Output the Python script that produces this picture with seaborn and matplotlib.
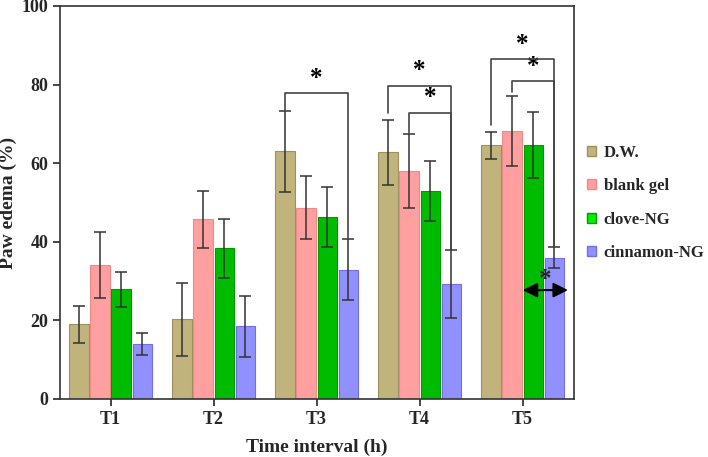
import matplotlib
matplotlib.use("Agg")
import matplotlib.pyplot as plt
from matplotlib.patches import Patch
import seaborn as sns
import pandas as pd

# valores (média e desvio)
tempos = ["T1", "T2", "T3", "T4", "T5"]
grupos = ["D.W.", "blank gel", "clove-NG", "cinnamon-NG"]
dw = [19.0, 20.3, 63.0, 62.8, 64.5]
blank_gel = [34.0, 45.7, 48.7, 58.1, 68.2]
clove_ng = [27.9, 38.4, 46.3, 52.9, 64.6]
cinnamon_ng = [14.1, 18.5, 32.9, 29.3, 35.9]
dw_sd = [4.7, 9.3, 10.3, 8.3, 3.4]
blank_gel_sd = [8.4, 7.2, 8.1, 9.4, 8.9]
clove_ng_sd = [4.4, 7.5, 7.6, 7.7, 8.3]
cinnamon_ng_sd = [2.8, 7.8, 7.8, 8.7, 2.7]

cores = ["#c0b47c", "#ff9f9f", "#00bc00", "#9090ff"]
bordas = ["#9d9060", "#f08a8a", "#009a00", "#7070e0"]
cores_legenda = ["#c0b47c", "#ff9f9f", "#00ee00", "#9090ff"]

df = pd.DataFrame({
    "tempo": tempos * 4,
    "grupo": sum([[g] * 5 for g in grupos], []),
    "valor": dw + blank_gel + clove_ng + cinnamon_ng,
})
desvios = [dw_sd, blank_gel_sd, clove_ng_sd, cinnamon_ng_sd]

sns.set_theme(style="ticks")
plt.rcParams["font.family"] = ["Liberation Serif", "DejaVu Serif"]
plt.rcParams["font.weight"] = "bold"

fig, ax = plt.subplots(figsize=(7.08, 4.57), dpi=100)
fig.subplots_adjust(left=0.085, right=0.811, top=0.987, bottom=0.127)

sns.barplot(data=df, x="tempo", y="valor", hue="grupo", order=tempos,
            hue_order=grupos, palette=cores, width=0.82, gap=0.08,
            errorbar=None, ax=ax, legend=False, saturation=1)

barras = list(ax.containers)
centros = []
for i, cont in enumerate(barras):
    xs = []
    for p in cont.patches:
        p.set_edgecolor(bordas[i])
        p.set_linewidth(0.8)
        xs.append(p.get_x() + p.get_width() / 2)
    centros.append(xs)
    vals = [p.get_height() for p in cont.patches]
    ax.errorbar(xs, vals, yerr=desvios[i], fmt="none", ecolor="#333333",
                elinewidth=1.1, capsize=4, capthick=1.1, zorder=5)


def colchete(x1, x2, y, y1, y2, txt_y, txt_x=None):
    ax.plot([x1, x1, x2, x2], [y1, y, y, y2], color="#444444", lw=1.2, zorder=6)
    if txt_x is None:
        txt_x = (x1 + x2) / 2
    ax.text(txt_x, txt_y, "*", ha="center", va="center", fontsize=18,
            fontweight="bold", color="black")

# T3
colchete(centros[0][2], centros[3][2], 77.9, 73.3, 40.7, 81.5)
# T4
colchete(centros[0][3], centros[3][3], 79.7, 72.7, 38.0, 83.7)
colchete(centros[1][3], centros[3][3], 72.7, 67.7, 38.0, 76.8)
# T5
colchete(centros[0][4], centros[3][4], 86.4, 69.7, 38.6, 90.3)
colchete(centros[1][4], centros[3][4], 80.9, 78.1, 38.6, 84.5)

# seta dupla em T5
ax.annotate("", xy=(4.44, 27.7), xytext=(4.0, 27.7),
            arrowprops=dict(arrowstyle="<|-|>", color="black", lw=1.5,
                            mutation_scale=22, shrinkA=0, shrinkB=0), zorder=7)
ax.text(4.22, 30.5, "*", ha="center", va="center", fontsize=18,
        fontweight="bold", color="#222222", zorder=8)

ax.set_ylim(0, 100)
ax.set_xlim(-0.49, 4.5)
ax.set_yticks([0, 20, 40, 60, 80, 100])
ax.set_xlabel("Time interval (h)", fontsize=14, fontweight="bold", labelpad=8)
ax.set_ylabel("Paw edema (%)", fontsize=14, fontweight="bold", labelpad=3)
ax.tick_params(axis="both", labelsize=13, length=5, width=1.2, direction="out")
for t in ax.get_xticklabels() + ax.get_yticklabels():
    t.set_fontweight("bold")
for s in ax.spines.values():
    s.set_linewidth(1.2)
    s.set_color("#333333")

handles = [Patch(facecolor=cores_legenda[i], edgecolor=bordas[i], label=g)
           for i, g in enumerate(grupos)]
fig.legend(handles=handles, loc="center left", bbox_to_anchor=(0.808, 0.556),
           frameon=False, labelspacing=1.05, handlelength=0.55,
           handleheight=0.55, handletextpad=0.45,
           prop={"weight": "bold", "size": 12})

fig.savefig("out.png", dpi=100)
